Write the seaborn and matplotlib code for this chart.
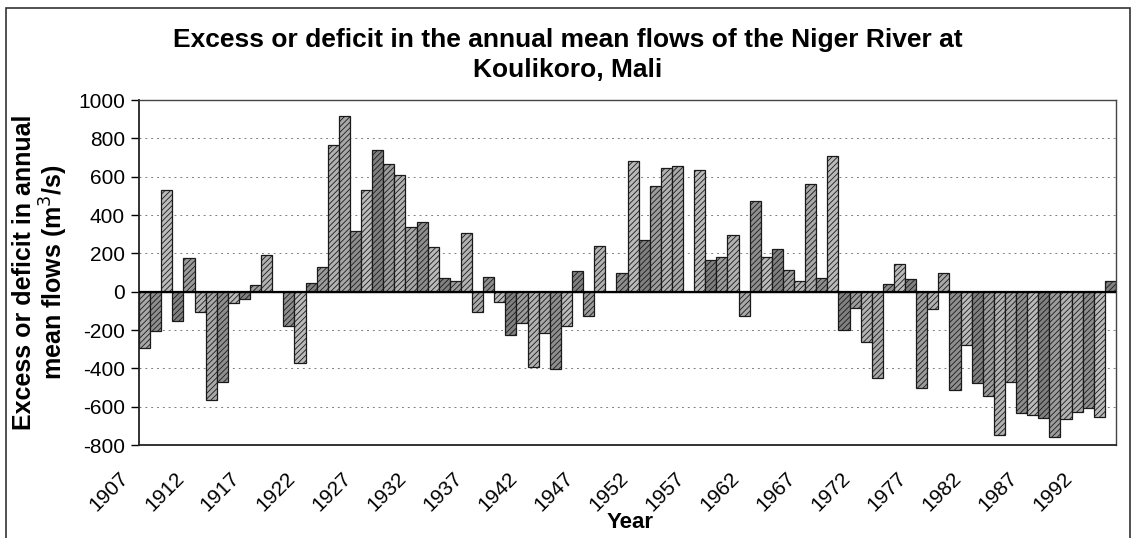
import numpy as np
import pandas as pd
import seaborn as sns
import matplotlib.pyplot as plt
import matplotlib.transforms as mtransforms
from matplotlib.patches import Rectangle

# Years of record and departure of annual mean flow from the long-term mean (m3/s)
years = list(range(1907, 1995))
anomaly = [
    -292, -205, 528, -151, 178, -107, -565, -473, -60, -37,      # 1907-1916
    35, 190, 0, -178, -374, 44, 128, 767, 915, 314,              # 1917-1926
    528, 737, 666, 610, 335, 366, 232, 70, 58, 305,              # 1927-1936
    -104, 76, -55, -226, -165, -391, -217, -403, -179, 110,      # 1937-1946
    -125, 240, 0, 97, 680, 270, 552, 645, 657, 0,                # 1947-1956
    636, 163, 180, 297, -125, 471, 180, 224, 114, 56,            # 1957-1966
    563, 70, 709, -200, -86, -265, -451, 39, 146, 65,            # 1967-1976
    -504, -92, 97, -513, -278, -478, -544, -748, -469, -635,     # 1977-1986
    -643, -661, -757, -666, -626, -608, -652, 56,                # 1987-1994
]
label_years = years[::5]
y_ticks = list(range(-800, 1001, 200))

df = pd.DataFrame({"year": [str(y) for y in years], "anomaly": anomaly})

sns.set_style("white")
plt.rcParams["font.family"] = ["Liberation Sans", "DejaVu Sans"]
plt.rcParams["hatch.linewidth"] = 0.6
plt.rcParams["text.color"] = "black"
plt.rcParams["xtick.color"] = "black"
plt.rcParams["ytick.color"] = "black"

fig = plt.figure(figsize=(11.35, 5.38), dpi=100)
ax = fig.add_axes([139 / 1135, 1 - 445 / 538, (1116 - 139) / 1135, (445 - 100) / 538])

shades = ["#a8a8a8", "#8e8e8e", "#bababa", "#808080", "#9c9c9c", "#b2b2b2"]
palette = [shades[i % len(shades)] for i in range(len(years))]

sns.barplot(data=df, x="year", y="anomaly", hue="year", palette=palette,
            legend=False, width=1.0, edgecolor="#1a1a1a", linewidth=0.9,
            saturation=1, ax=ax, zorder=2)
for p in ax.patches:
    p.set_hatch("//////")

ax.set_ylim(-800, 1000)
ax.set_yticks(y_ticks)
ax.set_yticklabels([str(v) for v in y_ticks], fontsize=15)
ax.set_xlim(-0.5, len(years) - 0.5)
ax.set_xticks([years.index(y) for y in label_years])
ax.set_xticklabels([str(y) for y in label_years], rotation=45, ha="right",
                   va="top", fontsize=15)
ax.tick_params(axis="x", length=0, pad=17)
ax.tick_params(axis="y", length=6, width=1, direction="out", pad=4, left=True)
shift = mtransforms.ScaledTranslation(-12 / 100, 0, fig.dpi_scale_trans)
for lab in ax.get_xticklabels():
    lab.set_transform(lab.get_transform() + shift)

for v in y_ticks[1:-1]:
    if v != 0:
        ax.axhline(v, color="#808080", linewidth=0.7, linestyle=(0, (2, 4)), zorder=1)
ax.axhline(0, color="black", linewidth=1.6, zorder=3)

for side in ["left", "bottom"]:
    ax.spines[side].set_color("#222222")
    ax.spines[side].set_linewidth(1.3)
for side in ["top", "right"]:
    ax.spines[side].set_color("#444444")
    ax.spines[side].set_linewidth(1.0)

ax.set_xlabel("")
ax.set_ylabel("")
fig.text(630 / 1135, 1 - 522 / 538, "Year", fontsize=16, fontweight="bold",
         ha="center", va="center")
fig.text(41 / 1135, 1 - 272 / 538, "Excess or deficit in annual\nmean flows (m$^3$/s)",
         fontsize=18, fontweight="bold", rotation=90, ha="center", va="center",
         multialignment="center", linespacing=1.1)
fig.text(568 / 1135, 1 - 55 / 538,
         "Excess or deficit in the annual mean flows of the Niger River at\nKoulikoro, Mali",
         fontsize=19, fontweight="bold", ha="center", va="center",
         multialignment="center", linespacing=1.3)

fig.add_artist(Rectangle((6 / 1135, -0.02), (1130 - 6) / 1135, 1 - 8 / 538 + 0.02,
                         transform=fig.transFigure, fill=False,
                         edgecolor="#333333", linewidth=1.2))

fig.savefig("out.png", dpi=100)
